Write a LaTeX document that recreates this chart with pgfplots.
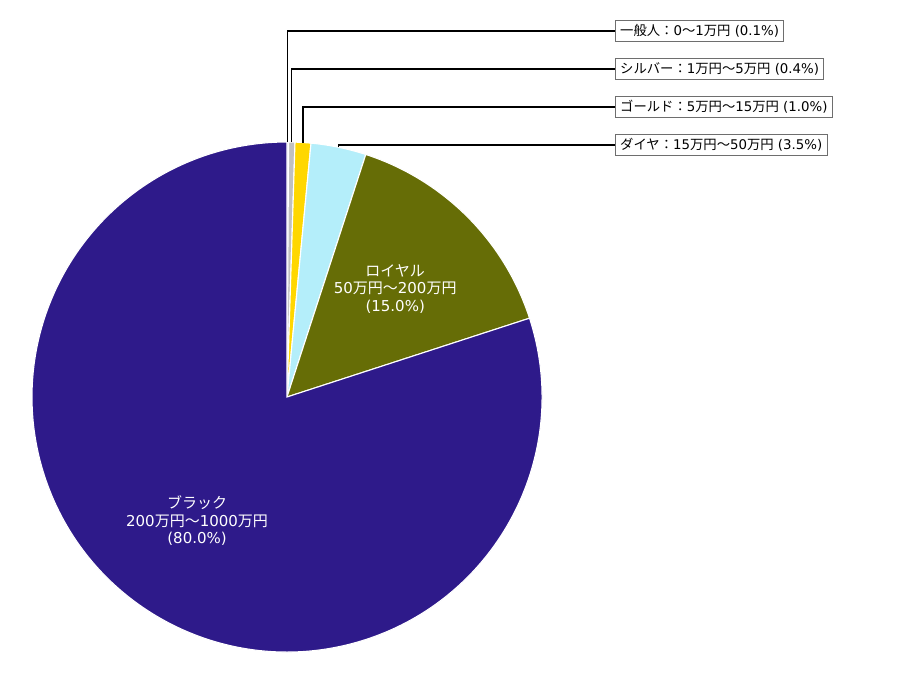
\documentclass[border=0pt]{standalone}
\usepackage{fontspec}
\setmainfont{DejaVu Sans}
\newfontfamily\jp{Noto Sans CJK JP}
\usepackage{pgfplots}
\usepackage{pgfplotstable}
\pgfplotsset{compat=1.18}

\definecolor{c0}{HTML}{E6E6F0}
\definecolor{c1}{HTML}{C0C0C0}
\definecolor{c2}{HTML}{FFD700}
\definecolor{c3}{HTML}{B4EEFA}
\definecolor{c4}{HTML}{666D06}
\definecolor{c5}{HTML}{2E1A8A}
\definecolor{boxgray}{HTML}{6E6E6E}

% share in percent, clockwise from the top
\pgfplotstableread{
share color
0.1 c0
0.4 c1
1.0 c2
3.5 c3
15.0 c4
80.0 c5
}\pietable

\newcommand\pieangles{%
  \gdef\acc{0}%
  \foreach \i in {0,...,5}{%
    \pgfplotstablegetelem{\i}{share}\of\pietable
    \let\v\pgfplotsretval
    \pgfmathsetmacro\sa{90-3.6*\acc}%
    \pgfmathsetmacro\newacc{\acc+\v}%
    \pgfmathsetmacro\ea{90-3.6*\newacc}%
    \pgfmathsetmacro\ma{(\sa+\ea)/2}%
    \expandafter\xdef\csname sa\i\endcsname{\sa}%
    \expandafter\xdef\csname ea\i\endcsname{\ea}%
    \expandafter\xdef\csname ma\i\endcsname{\ma}%
    \xdef\acc{\newacc}%
  }}
\pieangles

\def\R{183.6pt}
\newcommand\manen{{\jp 万円}}
\newcommand\wdash{{\jp 〜}}

\begin{document}
\begin{tikzpicture}
\useasboundingbox (0,0) rectangle (656.64pt,491.76pt);
\begin{axis}[at={(0,0)}, anchor=south west, scale only axis,
  width=656.64pt, height=491.76pt,
  xmin=0, xmax=912, ymin=0, ymax=683,
  hide axis, clip=false]

\pgfplotsinvokeforeach{0,...,5}{
  \pgfplotstablegetelem{#1}{color}\of\pietable
  \edef\temp{\noexpand\filldraw[fill=\pgfplotsretval, draw=white, line width=0.8pt]
    (axis cs:287,286) -- ++(\csname sa#1\endcsname:\R)
    arc[start angle=\csname sa#1\endcsname, end angle=\csname ea#1\endcsname, radius=\R] -- cycle;}
  \temp
}

% leader lines for the small slices
\pgfplotsinvokeforeach{0,...,3}{
  \pgfmathsetmacro\ly{652-38*#1}
  \edef\temp{\noexpand\draw[black, line width=0.75pt]
    (axis cs:287,286) ++(\csname ma#1\endcsname:\R) |- (axis cs:615,\ly);}
  \temp
}

\tikzset{lbl/.style={draw=boxgray, fill=white, anchor=west, inner xsep=3.4pt, inner ysep=2.9pt,
  line width=0.7pt, font=\fontsize{9.6}{11}\selectfont}}
\node[lbl] at (axis cs:615,652) {{\jp 一般人：}0\wdash 1\manen\ (0.1\%)};
\node[lbl] at (axis cs:615,614) {{\jp シルバー：}1\manen\wdash 5\manen\ (0.4\%)};
\node[lbl] at (axis cs:615,576) {{\jp ゴールド：}5\manen\wdash 15\manen\ (1.0\%)};
\node[lbl] at (axis cs:615,538) {{\jp ダイヤ：}15\manen\wdash 50\manen\ (3.5\%)};

\tikzset{inl/.style={text=white, align=center, font=\fontsize{10.8}{12.6}\selectfont}}
\edef\temp{\noexpand\path (axis cs:287,286) ++(\csname ma4\endcsname:0.6*\R) node[inl] {{\noexpand\jp ロイヤル}\noexpand\\50\noexpand\manen\noexpand\wdash 200\noexpand\manen\noexpand\\(15.0\noexpand\%)};}
\temp
\edef\temp{\noexpand\path (axis cs:287,286) ++(\csname ma5\endcsname:0.6*\R) node[inl] {{\noexpand\jp ブラック}\noexpand\\200\noexpand\manen\noexpand\wdash 1000\noexpand\manen\noexpand\\(80.0\noexpand\%)};}
\temp
\end{axis}
\end{tikzpicture}
\end{document}
